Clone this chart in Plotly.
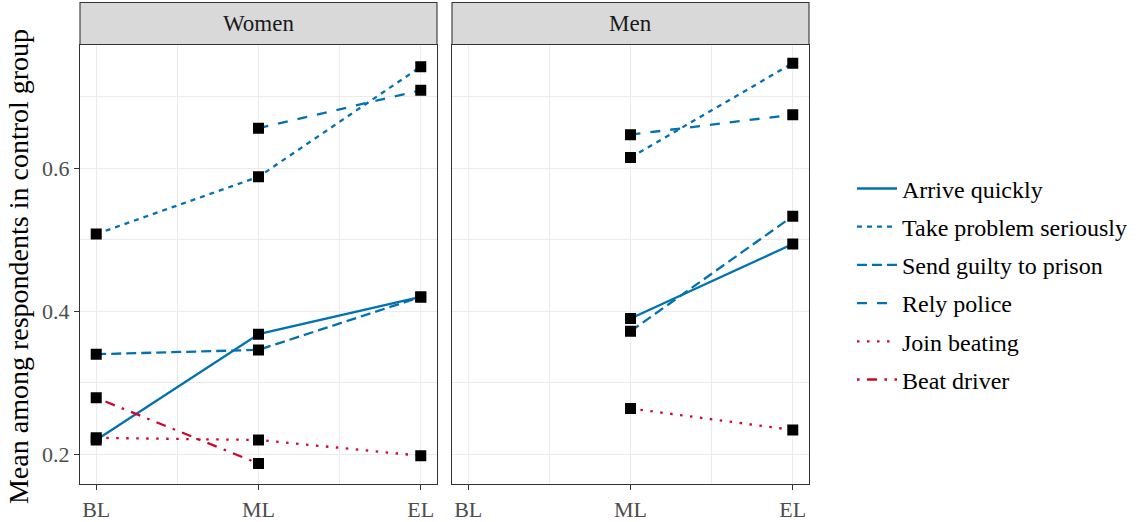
import plotly.graph_objects as go

waves = ["BL", "ML", "EL"]
wave_pos = [1, 2, 3]

outcomes = ["Arrive quickly", "Take problem seriously", "Send guilty to prison",
            "Rely police", "Join beating", "Beat driver"]

# Women panel values (None = not measured)
women_arrive = [0.220, 0.368, 0.420]
women_take = [0.508, 0.588, 0.742]
women_send = [0.340, 0.346, 0.420]
women_rely = [None, 0.656, 0.709]
women_join = [0.223, 0.220, 0.198]
women_beat = [0.279, 0.187, None]

# Men panel values
men_arrive = [None, 0.390, 0.494]
men_take = [None, 0.615, 0.747]
men_send = [None, 0.372, 0.533]
men_rely = [None, 0.647, 0.675]
men_join = [None, 0.264, 0.234]
men_beat = [None, None, None]

panels = ["Women", "Men"]

BLUE = "#0072B2"
RED = "#D0062E"
colors = [BLUE, BLUE, BLUE, BLUE, RED, RED]
U = 2.5
dashes = ["solid",
          f"{2*U}px,{2*U}px",
          f"{4*U}px,{2*U}px",
          f"{4*U}px,{4*U}px",
          f"{1*U}px,{3*U}px",
          f"{1*U}px,{3*U}px,{4*U}px,{3*U}px"]

FONT = "Liberation Serif"

data = {
    "Women": [women_arrive, women_take, women_send, women_rely, women_join, women_beat],
    "Men": [men_arrive, men_take, men_send, men_rely, men_join, men_beat],
}

fig = go.Figure()
for pi, panel in enumerate(panels):
    xa = "x" if pi == 0 else "x2"
    ya = "y" if pi == 0 else "y2"
    for k, name in enumerate(outcomes):
        vals = data[panel][k]
        xs = [p for p, v in zip(wave_pos, vals) if v is not None]
        ys = [v for v in vals if v is not None]
        fig.add_trace(go.Scatter(
            x=xs if xs else [None], y=ys if ys else [None], mode="lines", name=name,
            line=dict(color=colors[k], width=2.3, dash=dashes[k]),
            legendgroup=name, showlegend=(pi == 0),
            xaxis=xa, yaxis=ya, hoverinfo="skip"))
    for k, name in enumerate(outcomes):
        vals = data[panel][k]
        xs = [p for p, v in zip(wave_pos, vals) if v is not None]
        ys = [v for v in vals if v is not None]
        if xs:
            fig.add_trace(go.Scatter(
                x=xs, y=ys, mode="markers", showlegend=False,
                marker=dict(symbol="square", size=11, color="black"),
                xaxis=xa, yaxis=ya, hoverinfo="skip"))

W, H = 1142, 522
def px_x(p):
    return p / W
def px_y(p):
    return 1 - p / H

dom_x1 = [px_x(80), px_x(437)]
dom_x2 = [px_x(452), px_x(809)]
dom_y = [px_y(489), px_y(45)]

xaxis_common = dict(range=[0.9, 3.1], tickvals=wave_pos, ticktext=waves,
                    showgrid=True, gridcolor="#EBEBEB", gridwidth=1,
                    minor=dict(tickvals=[1.5, 2.5], showgrid=True, gridcolor="#EBEBEB", gridwidth=0.6),
                    ticks="outside", ticklen=5, tickcolor="#333333",
                    tickfont=dict(family=FONT, size=22, color="#4D4D4D"),
                    showline=True, linecolor="#333333", linewidth=1, mirror=True,
                    zeroline=False)
yaxis_common = dict(range=[0.158, 0.773], tickvals=[0.2, 0.4, 0.6],
                    showgrid=True, gridcolor="#EBEBEB", gridwidth=1,
                    minor=dict(tickvals=[0.3, 0.5, 0.7], showgrid=True, gridcolor="#EBEBEB", gridwidth=0.6),
                    showline=True, linecolor="#333333", linewidth=1, mirror=True,
                    zeroline=False, domain=dom_y)

fig.update_layout(
    width=W, height=H,
    margin=dict(l=0, r=0, t=0, b=0),
    paper_bgcolor="white", plot_bgcolor="white",
    font=dict(family=FONT, color="#1A1A1A"),
    xaxis=dict(domain=dom_x1, anchor="y", **xaxis_common),
    xaxis2=dict(domain=dom_x2, anchor="y2", **xaxis_common),
    yaxis=dict(anchor="x", ticks="outside", ticklen=5, tickcolor="#333333",
               tickfont=dict(family=FONT, size=22, color="#4D4D4D"),
               tickformat=".1f", **yaxis_common),
    yaxis2=dict(anchor="x2", showticklabels=False, ticks="", **yaxis_common),
    legend=dict(x=px_x(852), y=px_y(168), xanchor="left", yanchor="top",
                font=dict(family=FONT, size=24, color="#000000"),
                tracegroupgap=4, itemwidth=40, bgcolor="rgba(0,0,0,0)"),
    showlegend=True,
)

# strips
for dom, label in [(dom_x1, "Women"), (dom_x2, "Men")]:
    fig.add_shape(type="rect", xref="paper", yref="paper",
                  x0=dom[0], x1=dom[1], y0=px_y(45), y1=px_y(2.5),
                  fillcolor="#D9D9D9", line=dict(color="#333333", width=1.1), layer="above")
    fig.add_annotation(x=(dom[0] + dom[1]) / 2, y=(px_y(45) + px_y(2.5)) / 2,
                       xref="paper", yref="paper", text=label, showarrow=False,
                       xanchor="center", yanchor="middle",
                       font=dict(family=FONT, size=23, color="#1A1A1A"))

fig.add_annotation(x=px_x(18), y=(dom_y[0] + dom_y[1]) / 2 - 0.005, xref="paper", yref="paper",
                   text="Mean among respondents in control group", textangle=-90,
                   xanchor="center", yanchor="middle",
                   showarrow=False, font=dict(family=FONT, size=28, color="#000000"))

fig.write_html("out.html", config={"displayModeBar": False},
               post_script="document.body.style.margin='0';")
